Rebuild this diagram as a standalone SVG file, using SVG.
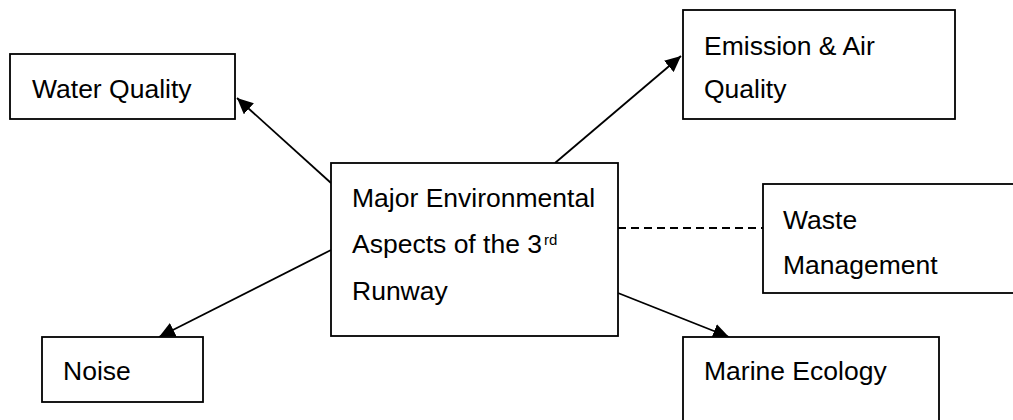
<svg xmlns="http://www.w3.org/2000/svg" width="1013" height="420" viewBox="0 0 1013 420">
<style>
.box{fill:#fff;stroke:#000;stroke-width:1.8}
.t{font-family:"Liberation Sans",Arial,sans-serif;font-size:26.5px;fill:#000}
.c{stroke:#000;stroke-width:1.8;fill:none}
.d{stroke:#000;stroke-width:1.8;fill:none;stroke-dasharray:8 5}
</style>
<defs>
<marker id="ah" markerUnits="userSpaceOnUse" markerWidth="17" markerHeight="15" refX="16" refY="7.5" orient="auto">
<path d="M0,0 L16,7.5 L0,15 z" fill="#000"/>
</marker>
</defs>
<rect width="1013" height="420" fill="#fff"/>
<g id="connectors">
<line class="c" x1="331" y1="183" x2="237" y2="98" marker-end="url(#ah)"/>
<line class="c" x1="555" y1="163" x2="681" y2="56" marker-end="url(#ah)"/>
<line class="c" x1="331" y1="250" x2="159" y2="337" marker-end="url(#ah)"/>
<line class="c" x1="618" y1="293" x2="729" y2="337" marker-end="url(#ah)"/>
<line class="d" x1="618" y1="228" x2="763" y2="228"/>
</g>
<g id="water">
<rect class="box" x="10" y="54" width="225" height="65"/>
<text class="t" x="32" y="98">Water Quality</text>
</g>
<g id="emission">
<rect class="box" x="683" y="10" width="272" height="109"/>
<text class="t" x="704" y="55">Emission &amp; Air</text>
<text class="t" x="704" y="98">Quality</text>
</g>
<g id="main">
<rect class="box" x="331" y="163" width="287" height="173"/>
<text class="t" x="352" y="207">Major Environmental</text>
<text class="t" x="352" y="253">Aspects of the 3<tspan font-size="15" dx="2" dy="-8">rd</tspan></text>
<text class="t" x="352" y="300">Runway</text>
</g>
<g id="waste">
<rect class="box" x="763" y="184" width="270" height="109"/>
<text class="t" x="783" y="229">Waste</text>
<text class="t" x="783" y="274">Management</text>
</g>
<g id="noise">
<rect class="box" x="42" y="337" width="161" height="65"/>
<text class="t" x="63" y="380">Noise</text>
</g>
<g id="marine">
<rect class="box" x="683" y="337" width="256" height="100"/>
<text class="t" x="704" y="380">Marine Ecology</text>
</g>
</svg>
